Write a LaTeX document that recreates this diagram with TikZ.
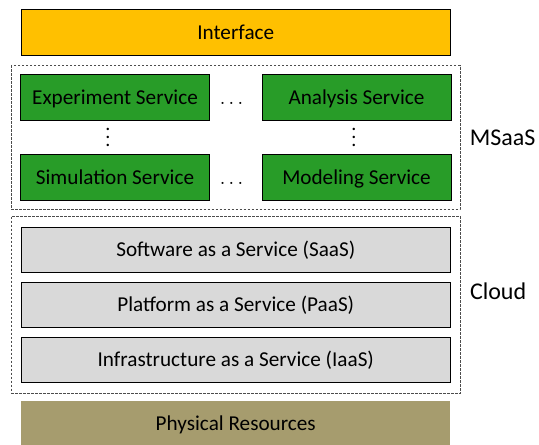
\documentclass[tikz,border=0pt]{standalone}
\usepackage{fontspec}
\setmainfont{Carlito}
\usepackage{tikz}
\usetikzlibrary{positioning,fit}
\definecolor{ifaceyellow}{RGB}{255,192,0}
\definecolor{servicegreen}{RGB}{40,156,40}
\definecolor{layergray}{RGB}{217,217,217}
\definecolor{resourceolive}{RGB}{166,156,110}
\tikzstyle{block} = [rectangle, draw, line width=0.5pt, text centered, minimum height=22.75pt, inner sep=0pt, font=\fontsize{10.6}{12.7}\selectfont, text height=6.8pt, text depth=0pt]
\tikzstyle{service} = [block, fill=servicegreen, minimum width=94.5pt]
\tikzstyle{layer} = [block, fill=layergray, minimum width=214.5pt]
\tikzstyle{ellipsis} = [inner sep=0pt, text height=6.8pt, text depth=0pt]
\tikzstyle{group} = [draw=black!70, line width=0.4pt, dash pattern=on 1.2pt off 0.8pt, inner xsep=4.25pt, inner ysep=4.25pt]
\tikzstyle{grouplabel} = [font=\large, anchor=west, inner sep=0pt]

\begin{document}
\begin{tikzpicture}[node distance=40pt]
		\useasboundingbox (-57.5pt,-173.25pt) rectangle (212pt,48.75pt);
		
		\node (experiment) [service] {Experiment Service};
		\node (analysis) [service, right of=experiment, node distance=120.75pt] {Analysis Service};
		\node (simulation) [service, below of=experiment] {Simulation Service};
		\node (modeling) [service, below of=analysis] {Modeling Service};
		
		\node (dotsup) [ellipsis, right of=experiment, node distance=58.25pt] {$\ldots$};
		\node (dotsdown) [ellipsis, right of=simulation, node distance=58.25pt] {$\ldots$};
		\node (vdotsleft) [below of=experiment, node distance=20pt, xshift=-3.5pt, yshift=3pt] {$\vdots$};
		\node (vdotsright) [below of=analysis, node distance=20pt, xshift=-1.25pt, yshift=3pt] {$\vdots$};
		
		\node (msaas) [group, fit=(experiment)(modeling)] {};
		\node (interface) [block, fill=ifaceyellow, minimum width=214.5pt, above of=msaas, node distance=52.5pt] {Interface};
		
		\node (saas) [layer, below of=msaas, node distance=56.25pt] {Software as a Service (SaaS)};
		\node (paas) [layer, below of=saas, node distance=27.5pt] {Platform as a Service (PaaS)};
		\node (iaas) [layer, below of=paas, node distance=27.5pt] {Infrastructure as a Service (IaaS)};
		\node (cloud) [group, fit=(saas)(iaas), inner xsep=4.75pt, inner ysep=5.25pt] {};
		\node (physical) [layer, draw=none, fill=resourceolive, below of=iaas, node distance=31.75pt] {Physical Resources};
		
		\node (msaaslabel) [grouplabel, right=4.5pt of msaas] {MSaaS};
		\node (cloudlabel) [grouplabel, right=4.5pt of cloud, yshift=7pt] {Cloud};
		
	\end{tikzpicture}
\end{document}
